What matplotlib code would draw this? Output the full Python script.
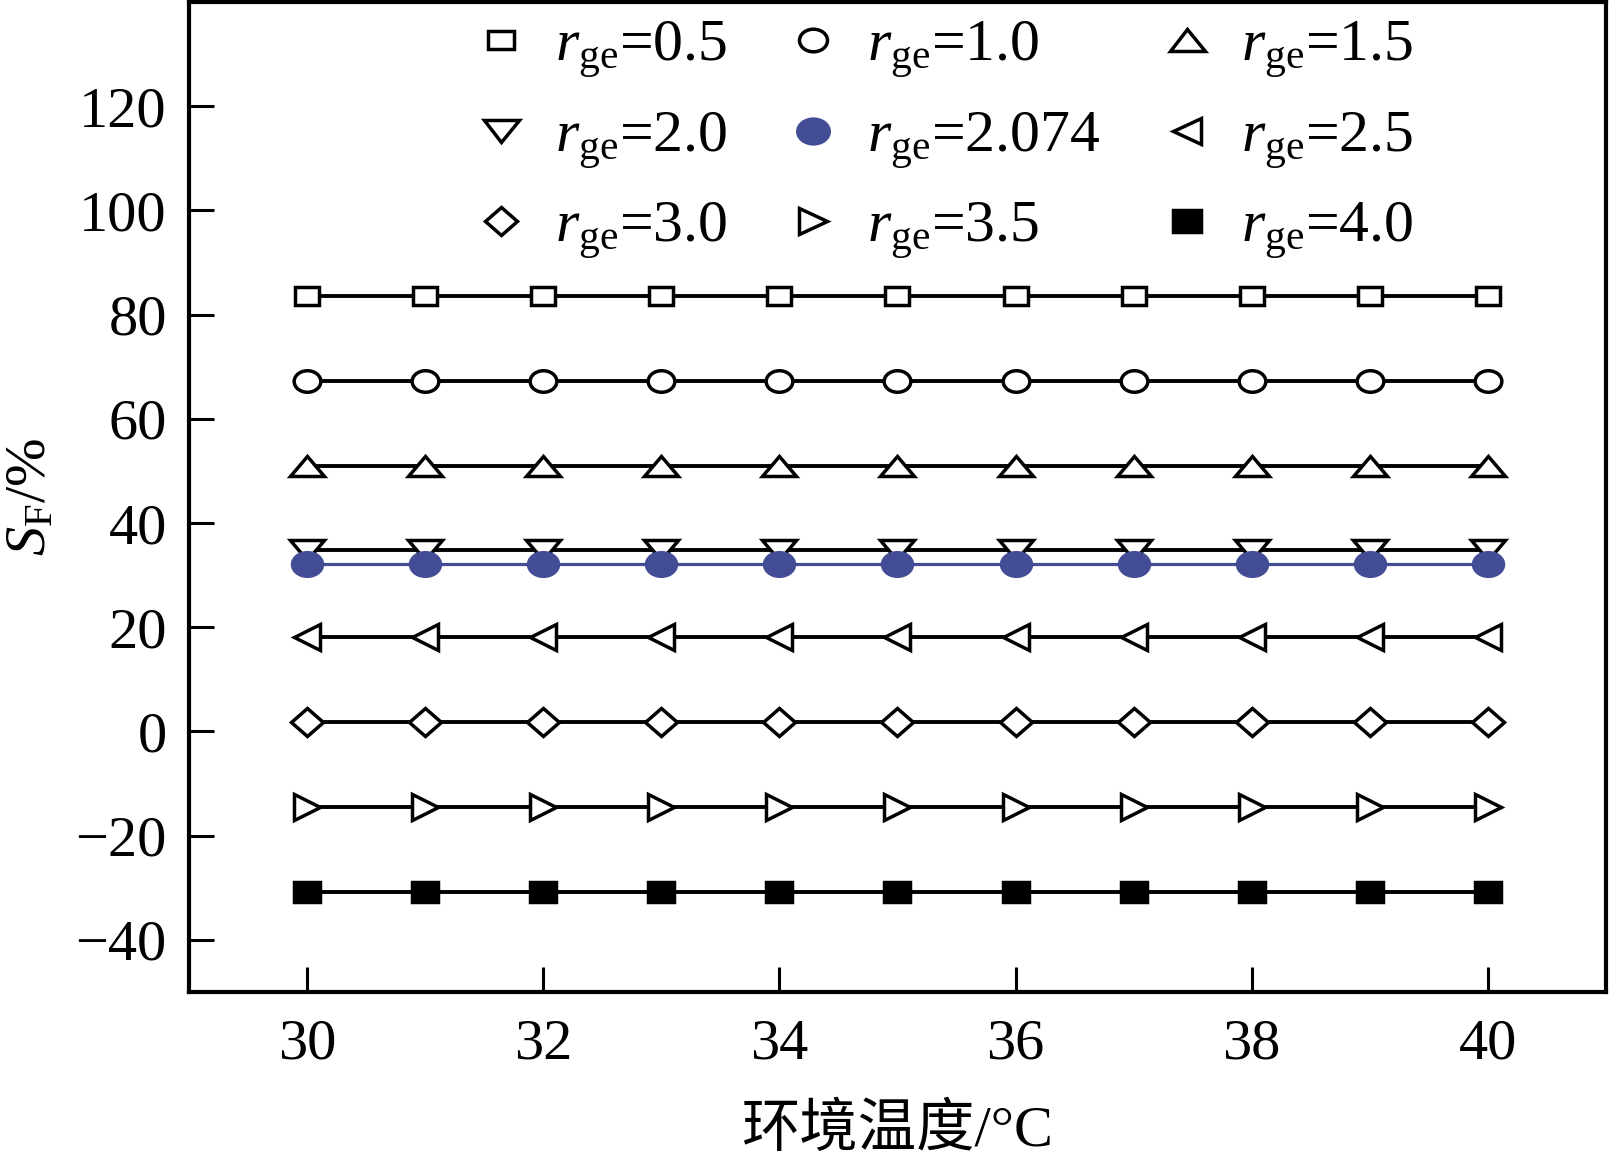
import matplotlib
matplotlib.use("Agg")
import matplotlib.pyplot as plt
from matplotlib.markers import MarkerStyle
from matplotlib.transforms import Affine2D
from matplotlib.lines import Line2D

plt.rcParams['font.family'] = ['Liberation Serif', 'Noto Sans CJK SC']
plt.rcParams['mathtext.fontset'] = 'custom'
plt.rcParams['mathtext.rm'] = 'Liberation Serif'
plt.rcParams['mathtext.it'] = 'Liberation Serif:italic'
plt.rcParams['axes.unicode_minus'] = True

# ambient temperature (x)
temps = [30, 31, 32, 33, 34, 35, 36, 37, 38, 39, 40]

# r_ge labels and S_F values
r_ge = ['0.5', '1.0', '1.5', '2.0', '2.074', '2.5', '3.0', '3.5', '4.0']
sf_05 = [83.6, 83.6, 83.6, 83.6, 83.6, 83.6, 83.6, 83.6, 83.6, 83.6, 83.6]
sf_10 = [67.2, 67.2, 67.2, 67.2, 67.2, 67.2, 67.2, 67.2, 67.2, 67.2, 67.2]
sf_15 = [50.9, 50.9, 50.9, 50.9, 50.9, 50.9, 50.9, 50.9, 50.9, 50.9, 50.9]
sf_20 = [34.8, 34.8, 34.8, 34.8, 34.8, 34.8, 34.8, 34.8, 34.8, 34.8, 34.8]
sf_2074 = [32.2, 32.2, 32.2, 32.2, 32.2, 32.2, 32.2, 32.2, 32.2, 32.2, 32.2]
sf_25 = [18.2, 18.2, 18.2, 18.2, 18.2, 18.2, 18.2, 18.2, 18.2, 18.2, 18.2]
sf_30 = [1.9, 1.9, 1.9, 1.9, 1.9, 1.9, 1.9, 1.9, 1.9, 1.9, 1.9]
sf_35 = [-14.4, -14.4, -14.4, -14.4, -14.4, -14.4, -14.4, -14.4, -14.4, -14.4, -14.4]
sf_40 = [-30.8, -30.8, -30.8, -30.8, -30.8, -30.8, -30.8, -30.8, -30.8, -30.8, -30.8]
series = [sf_05, sf_10, sf_15, sf_20, sf_2074, sf_25, sf_30, sf_35, sf_40]

blue = '#434d95'


def mk(base, sx):
    # markers in the original are stretched horizontally
    return MarkerStyle(base, transform=Affine2D().scale(sx, 1.0))


# (marker, markersize, face, edge, line colour)
styles = [
    (mk('s', 1.36), 13, 'white', 'black', 'black'),
    (mk('o', 1.24), 15.5, 'white', 'black', 'black'),
    (mk('^', 1.6), 15, 'white', 'black', 'black'),
    (mk('v', 1.6), 15, 'white', 'black', 'black'),
    (mk('o', 1.27), 17, blue, blue, blue),
    (mk('<', 1.05), 18.5, 'white', 'black', 'black'),
    (mk('D', 1.14), 14, 'white', 'black', 'black'),
    (mk('>', 1.05), 18.5, 'white', 'black', 'black'),
    (mk('s', 1.25), 15, 'black', 'black', 'black'),
]

fig = plt.figure(figsize=(16.11, 11.67), dpi=100)
ax = fig.add_axes([189 / 1611, 1 - 992 / 1167, (1606 - 189) / 1611, 990 / 1167])

handles = []
for vals, lab, (m, ms, fc, ec, lc) in zip(series, r_ge, styles):
    ax.plot(temps, vals, color=lc, lw=2.8 if lc == 'black' else 2.3,
            marker=m, ms=ms, mfc=fc, mec=ec, mew=2.5, zorder=3)
    handles.append(Line2D([], [], linestyle='none', marker=m, ms=ms * 1.05,
                          mfc=fc, mec=ec, mew=2.5,
                          label=r'$r_{\rm ge}$=' + lab))

ax.set_xlim(29, 41)
ax.set_ylim(-50, 140)
ax.set_xticks([30, 32, 34, 36, 38, 40])
ax.set_yticks([-40, -20, 0, 20, 40, 60, 80, 100, 120])

for s in ax.spines.values():
    s.set_linewidth(3)
ax.tick_params(direction='in', length=18, width=2.2, labelsize=42)
ax.tick_params(axis='y', pad=16)
ax.tick_params(axis='x', pad=19)

ax.set_xlabel('环境温度/°C', fontsize=42)
ax.xaxis.set_label_coords(0.5, -0.113)
ax.set_ylabel(r'$S_{\rm F}$/%', fontsize=42)
ax.yaxis.set_label_coords(-0.093, 0.5)

# legend filled column-wise, so reorder to get row-wise reading
order = [0, 3, 6, 1, 4, 7, 2, 5, 8]
ax.legend([handles[i] for i in order], [handles[i].get_label() for i in order],
          ncol=3, frameon=False, fontsize=43, loc='upper left',
          bbox_to_anchor=(477 / 1611, 1 - 19 / 1167), bbox_transform=fig.transFigure,
          borderpad=0, borderaxespad=0, handlelength=0.8, handletextpad=0.5,
          columnspacing=1.05, labelspacing=0.5)

fig.savefig('out.png', dpi=100)
